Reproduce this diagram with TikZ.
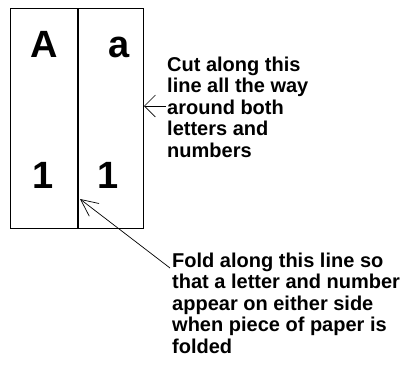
\documentclass[tikz,border=0pt]{standalone}
\usepackage{fontspec}
\setmainfont{Liberation Sans}
\usetikzlibrary{arrows.meta}
\tikzset{
  big/.style={font=\bfseries\fontsize{38}{40}\selectfont, inner sep=0pt, anchor=base},
  note/.style={font=\bfseries\fontsize{20}{21.5}\selectfont, align=left, inner sep=0pt, anchor=base west},
  cutarrow/.style={line width=0.7pt, -{Straight Barb[length=11pt,width=22pt,line width=0.7pt]}},
  foldarrow/.style={line width=0.7pt, -{Straight Barb[length=17pt,width=16pt,line width=0.7pt]}},
}
\begin{document}
\begin{tikzpicture}[x=1pt,y=-1pt]
\useasboundingbox (0,0) rectangle (407,367);
\fill[white] (0,0) rectangle (407,367);
% paper
\coordinate (tl) at (10,8);
\coordinate (br) at (143,228);
\draw[line width=1pt] (tl) rectangle (br);
\coordinate (foldtop) at (78,8);
\coordinate (foldbot) at (78,228);
\draw[line width=2pt] (foldtop) -- (foldbot);
% letters and numbers
\node[big] (A) at (44,57) {A};
\node[big] (a) at (119,57) {a};
\node[big] (n1) at (43,188) {1};
\node[big] (n2) at (108,188) {1};
% notes (anchored at the baseline of the last line)
\node[note] (cut) at (167,157) {Cut along this\\line all the way\\around both\\letters and\\numbers};
\node[note] (fold) at (172,353) {Fold along this line so\\that a letter and number\\appear on either side\\when piece of paper is\\folded};
% arrows
\coordinate (cuttail) at (166,106);
\coordinate (cuttip) at (144,106);
\draw[cutarrow] (cuttail) -- (cuttip);
\coordinate (foldtail) at (170,268);
\coordinate (foldtip) at (80,199);
\draw[foldarrow] (foldtail) -- (foldtip);
\end{tikzpicture}
\end{document}
